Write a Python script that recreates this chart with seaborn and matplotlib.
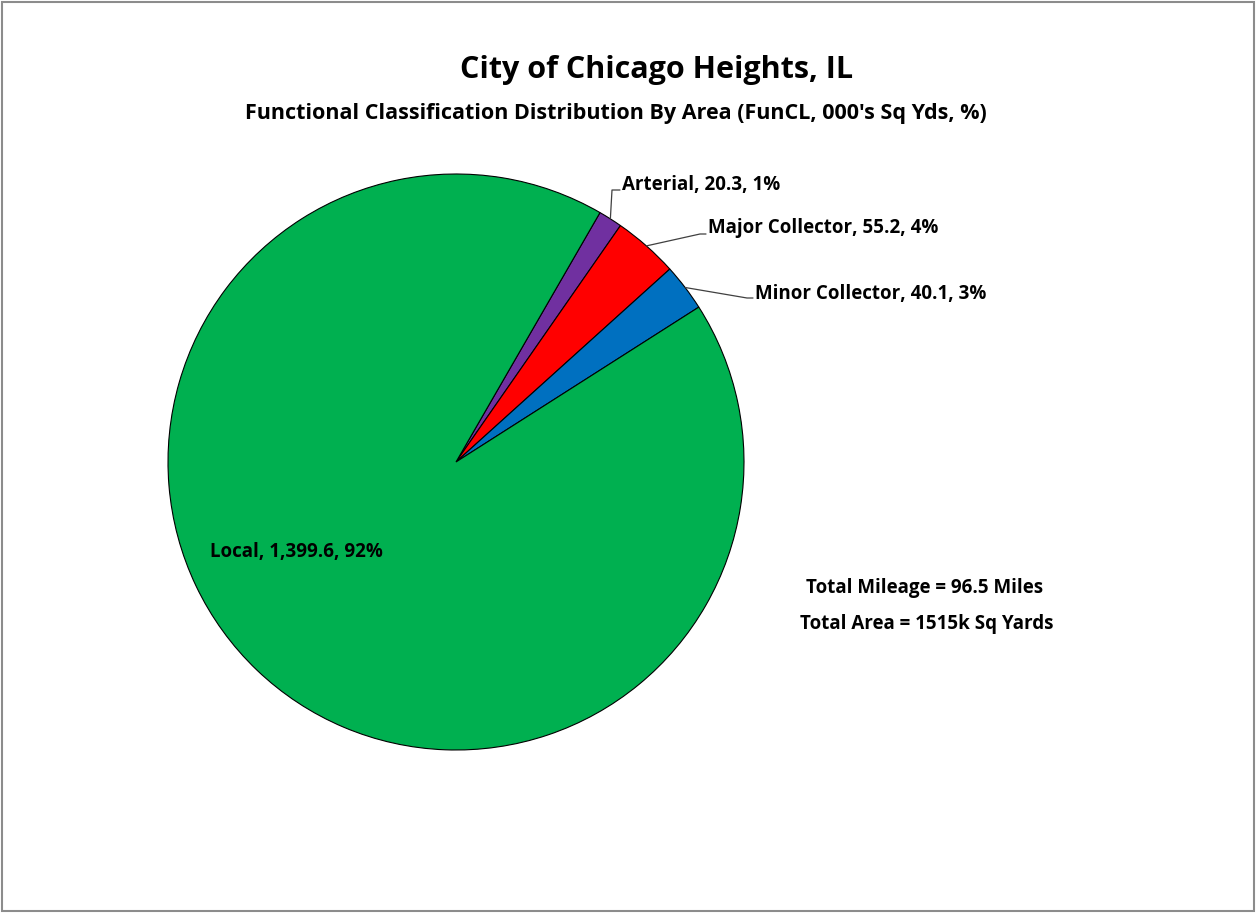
import numpy as np
import matplotlib
matplotlib.use("Agg")
import matplotlib.pyplot as plt
import seaborn as sns

sns.set_theme(style="white")
plt.rcParams['font.family'] = ['Open Sans', 'DejaVu Sans']
plt.rcParams['text.color'] = 'black'

# data (000's sq yds)
categories = ["Arterial", "Major Collector", "Minor Collector", "Local"]
area = [20.3, 55.2, 40.1, 1399.6]
colors = ["#7030A0", "#FF0000", "#0070C0", "#00B050"]
total_mileage = 96.5

W, H = 1257, 913
fig = plt.figure(figsize=(W / 100, H / 100), dpi=100)
ax = fig.add_axes([0, 0, 1, 1])

# pixel layout helpers (y measured from top)
def py(y):
    return H - y

cx, cy, r = 456, 462, 288
start = 60  # degrees, first slice begins 30 deg clockwise from 12 o'clock

wedges, _ = ax.pie(area, colors=colors, startangle=start, counterclock=False,
                   center=(cx, py(cy)), radius=r, frame=True,
                   wedgeprops=dict(edgecolor="black", linewidth=0.8))
ax.set_xlim(0, W)
ax.set_ylim(0, H)
ax.set_aspect("equal")
ax.axis("off")

total = sum(area)
pct = [a / total * 100 for a in area]
labels = [f"{c}, {a:,.1f}, {p:.0f}%" for c, a, p in zip(categories, area, pct)]

# label placement: (elbow x, elbow y, text x, text y) in pixels from top-left
label_pos = {
    "Arterial": (612, 190, 622, 185),
    "Major Collector": (700, 234, 708, 228),
    "Minor Collector": (747, 298, 755, 294),
}
lab_fs = 13.5

for w, lab, cat in zip(wedges, labels, categories):
    mid = np.deg2rad((w.theta1 + w.theta2) / 2)
    ex = cx + r * np.cos(mid)
    ey = py(cy) + r * np.sin(mid)
    if cat in label_pos:
        bx, by, tx, ty = label_pos[cat]
        ax.plot([ex, bx, tx - 2], [ey, py(by), py(by)], color="#404040", lw=0.9)
        ax.text(tx, py(ty), lab, fontsize=lab_fs, fontweight="bold", ha="left",
                va="center")
    else:
        ax.text(296, py(552), lab, fontsize=lab_fs, fontweight="bold", ha="center",
                va="center")

ax.text(657, py(70), "City of Chicago Heights, IL", fontsize=22, fontweight="bold",
        ha="center", va="center")
ax.text(616, py(113), "Functional Classification Distribution By Area (FunCL, 000's Sq Yds, %)",
        fontsize=15.5, fontweight="bold", ha="center", va="center")

ax.text(925, py(588), f"Total Mileage = {total_mileage} Miles", fontsize=lab_fs,
        fontweight="bold", ha="center", va="center")
ax.text(927, py(624), f"Total Area = {total:.0f}k Sq Yards", fontsize=lab_fs,
        fontweight="bold", ha="center", va="center")

# chart border
ax.add_patch(plt.Rectangle((2, 2), W - 5, H - 4, fill=False, edgecolor="#8c8c8c", lw=1.5))

fig.savefig("out.png", dpi=100)
